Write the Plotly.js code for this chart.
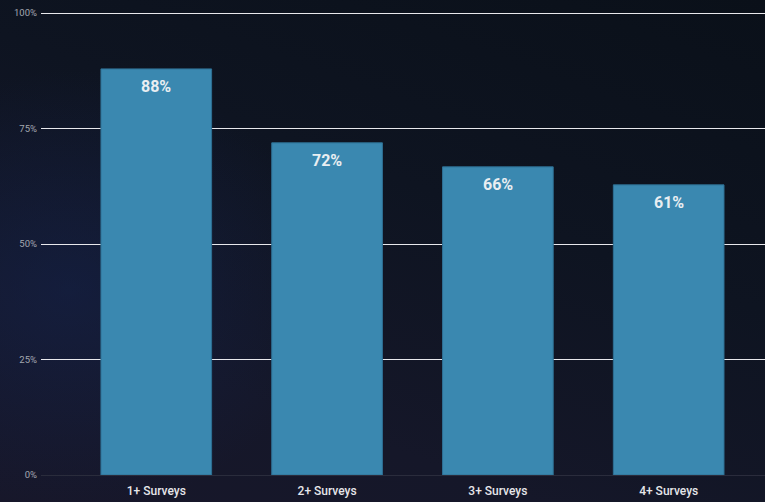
<!DOCTYPE html>
<html>
<head>
<meta charset="utf-8">
<script src="https://cdn.plot.ly/plotly-3.0.1.min.js"></script>
<style>
  html, body { margin:0; padding:0; width:765px; height:502px; overflow:hidden; }
  body {
    background:
      radial-gradient(ellipse 260px 220px at 70px 290px, rgba(20,36,80,0.5), rgba(20,36,80,0) 100%),
      linear-gradient(200deg, #0a1019 0%, #0e1421 40%, #151729 75%, #17172a 100%);
  }
  #chart { width:765px; height:502px; }
</style>
</head>
<body>
<div id="chart"></div>
<script>
const categories = ["1+ Surveys", "2+ Surveys", "3+ Surveys", "4+ Surveys"];
const values = [0.879, 0.719, 0.667, 0.628];
const barLabels = ["88%", "72%", "66%", "61%"];
const yTickVals = [0, 0.25, 0.5, 0.75, 1];
const yTickText = ["0%", "25%", "50%", "75%", "100%"];

const trace = {
  type: "bar",
  x: categories,
  y: values,
  marker: { color: "#3a88b0", line: { color: "#2e7094", width: 1 } },
  hoverinfo: "skip"
};

const annotations = categories.map((c, i) => ({
  x: c, y: values[i], xref: "x", yref: "y",
  text: barLabels[i], showarrow: false,
  yanchor: "top", yshift: -6,
  font: { family: "Roboto, sans-serif", size: 16, color: "#e9eef2", weight: 700 }
}));

const layout = {
  width: 765, height: 502,
  margin: { l: 41, r: 0, t: 10, b: 27, pad: 0 },
  paper_bgcolor: "rgba(0,0,0,0)",
  plot_bgcolor: "rgba(0,0,0,0)",
  bargap: 0.352,
  showlegend: false,
  xaxis: {
    type: "category",
    range: [-0.675, 3.564],
    showgrid: false, zeroline: false, showline: false,
    ticks: "", fixedrange: true, ticklabelstandoff: 7,
    tickfont: { family: "Roboto, sans-serif", size: 12, color: "#e6e6ea", weight: 500 }
  },
  yaxis: {
    range: [0, 1.0065],
    tickvals: yTickVals, ticktext: yTickText,
    showgrid: true, gridcolor: "#e8e8ec", gridwidth: 1,
    zeroline: true, zerolinecolor: "#2a2c3c", zerolinewidth: 1,
    showline: false, ticks: "", ticklabelstandoff: 3,
    tickfont: { family: "Roboto, sans-serif", size: 9.5, color: "#a3a7b0" }
  },
  annotations: annotations
};

Plotly.newPlot("chart", [trace], layout, { displayModeBar: false, staticPlot: true });
</script>
</body>
</html>
